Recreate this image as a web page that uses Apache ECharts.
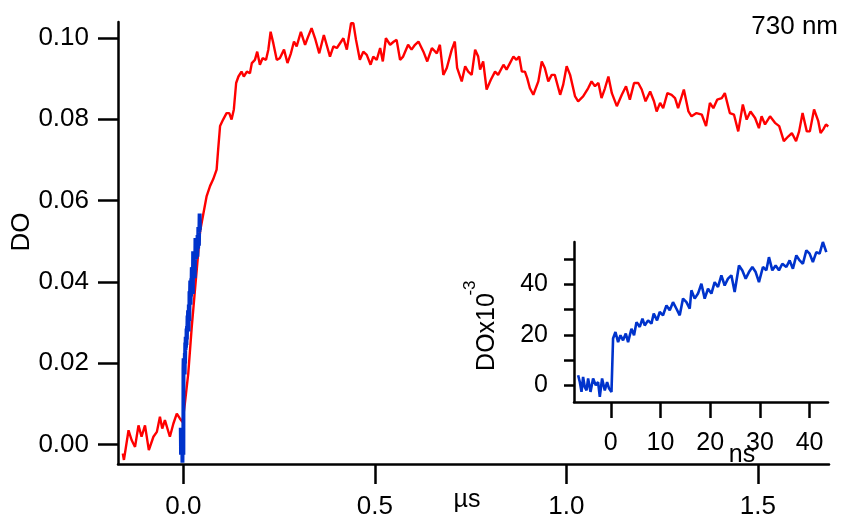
<!DOCTYPE html>
<html>
<head>
<meta charset="utf-8">
<script src="https://cdn.jsdelivr.net/npm/echarts@6/dist/echarts.min.js"></script>
<style>html,body{margin:0;padding:0;background:#fff}#c{width:841px;height:523px}</style>
</head>
<body>
<div id="c"></div>
<script>
// Main trace (red), time in µs, DO
var redTime = [
-0.158,-0.155,-0.143,-0.135,-0.126,-0.117,-0.109,-0.100,-0.090,-0.078,
-0.069,-0.061,-0.055,-0.048,-0.035,-0.026,-0.017,-0.009,-0.002,0.004,
0.013,0.022,0.031,0.044,0.061,0.070,0.078,0.087,0.091,0.096,
0.104,0.113,0.120,0.126,0.132,0.138,0.144,0.152,0.158,0.166,
0.174,0.179,0.187,0.193,0.200,0.207,0.216,0.222,0.228,0.235,
0.244,0.252,0.263,0.272,0.281,0.289,0.296,0.307,0.318,0.326,
0.335,0.344,0.355,0.367,0.383,0.392,0.401,0.418,0.427,0.438,
0.444,0.451,0.461,0.470,0.479,0.489,0.496,0.505,0.514,0.521,
0.529,0.540,0.550,0.557,0.566,0.574,0.587,0.596,0.605,0.614,
0.627,0.637,0.649,0.662,0.670,0.679,0.688,0.701,0.709,0.715,
0.727,0.736,0.744,0.753,0.762,0.770,0.775,0.783,0.792,0.803,
0.814,0.822,0.836,0.844,0.853,0.862,0.870,0.877,0.884,0.892,
0.898,0.905,0.914,0.927,0.936,0.944,0.953,0.962,0.970,0.984,
0.992,1.001,1.010,1.023,1.031,1.044,1.057,1.066,1.075,1.084,
1.092,1.101,1.110,1.119,1.132,1.145,1.156,1.166,1.177,1.188,
1.197,1.207,1.219,1.229,1.236,1.245,1.253,1.264,1.275,1.284,
1.292,1.307,1.319,1.327,1.340,1.354,1.365,1.375,1.384,1.394,
1.406,1.414,1.427,1.438,1.449,1.461,1.471,1.481,1.493,1.503,
1.510,1.519,1.532,1.545,1.556,1.568,1.580,1.589,1.600,1.608,
1.617,1.628,1.636,1.647,1.658,1.664,1.671,1.678,1.684];
var redDO = [
-0.0022,-0.0038,0.0035,0.0011,-0.0006,0.0047,0.0019,0.0047,-0.0014,0.0019,
0.0031,0.0068,0.0039,0.0060,0.0019,0.0051,0.0076,0.0064,0.0055,0.0100,
0.0175,0.0288,0.0386,0.0525,0.0611,0.0636,0.0652,0.0676,0.0725,0.0783,
0.0799,0.0815,0.0815,0.0799,0.0824,0.0889,0.0905,0.0917,0.0905,0.0917,
0.0913,0.0938,0.0946,0.0966,0.0934,0.0950,0.0946,0.0971,0.1015,0.0987,
0.0946,0.0950,0.0971,0.0938,0.0962,0.0991,0.0979,0.1015,0.0983,0.1003,
0.1024,0.0999,0.0962,0.1007,0.0954,0.0979,0.0975,0.0999,0.0971,0.1036,
0.1036,0.0995,0.0946,0.0966,0.0958,0.0934,0.0954,0.0946,0.0975,0.0942,
0.0999,0.0983,0.0991,0.0995,0.0946,0.0954,0.0983,0.0971,0.0983,0.0991,
0.0966,0.0942,0.0975,0.0962,0.0983,0.0909,0.0926,0.0971,0.0991,0.0926,
0.0893,0.0930,0.0917,0.0909,0.0971,0.0954,0.0922,0.0942,0.0873,0.0897,
0.0917,0.0909,0.0934,0.0922,0.0938,0.0954,0.0946,0.0954,0.0917,0.0917,
0.0901,0.0876,0.0860,0.0893,0.0942,0.0926,0.0893,0.0909,0.0909,0.0860,
0.0885,0.0930,0.0909,0.0856,0.0844,0.0856,0.0876,0.0893,0.0881,0.0889,
0.0852,0.0876,0.0905,0.0864,0.0832,0.0860,0.0881,0.0848,0.0889,0.0889,
0.0873,0.0844,0.0868,0.0844,0.0819,0.0840,0.0827,0.0864,0.0860,0.0852,
0.0827,0.0873,0.0819,0.0807,0.0815,0.0811,0.0783,0.0840,0.0827,0.0848,
0.0852,0.0864,0.0815,0.0811,0.0770,0.0836,0.0799,0.0819,0.0803,0.0778,
0.0807,0.0787,0.0807,0.0791,0.0783,0.0746,0.0758,0.0766,0.0746,0.0770,
0.0815,0.0770,0.0770,0.0824,0.0795,0.0766,0.0775,0.0787,0.0782];

// Fast trace (blue), time in ns, DO x10^-3
var blueNs = [-6.57,-6.23,-5.89,-5.57,-5.23,-4.88,-4.56,-4.08,-3.56,-3.02,-2.55,-2.21,-1.75,-1.21,-0.74,-0.34,0.14,
0.46,0.94,1.47,1.95,2.47,3.02,3.48,4.16,4.68,5.17,5.83,6.37,6.83,7.50,8.18,8.64,9.31,9.85,10.51,11.20,
11.86,12.52,13.21,13.87,14.53,15.22,15.88,16.22,16.88,17.55,18.23,18.89,19.56,20.24,20.90,21.57,22.25,
22.91,23.58,24.26,24.92,25.79,26.47,27.14,27.80,28.48,29.15,29.81,30.61,31.30,31.82,32.50,33.17,33.83,
34.51,35.32,35.98,36.64,37.33,37.99,38.65,39.34,40.00,40.66,41.35,42.01,42.67,43.36];
var blueDO = [4.1,1.4,-2.5,3.4,-0.6,-1.9,2.8,-2.5,2.8,0.1,1.4,-4.5,2.8,-1.9,1.4,-1.2,-2.5,
18.6,21.2,17.2,19.9,17.9,20.6,17.2,22.5,19.9,25.1,23.2,26.5,23.8,25.8,24.5,28.5,25.8,29.1,27.8,31.7,
29.8,33.0,30.4,27.8,34.4,33.0,30.4,37.7,34.4,36.4,40.3,34.4,38.3,36.4,40.9,39.0,43.6,
39.6,42.3,43.6,37.0,47.5,45.5,42.3,44.9,46.9,44.9,40.9,46.9,45.6,50.8,45.6,47.5,45.6,
48.2,46.9,49.5,46.2,51.5,49.5,48.2,53.5,52.2,48.9,52.8,52.2,56.8,52.8];

// Tick values
var mainXTicks = [0, 0.5, 1.0, 1.5];
var mainYTicks = [0, 0.02, 0.04, 0.06, 0.08, 0.10];
var insetXTicks = [0, 10, 20, 30, 40];
var insetYTicks = [0, 10, 20, 30, 40, 50];
var insetYLabels = [0, 20, 40];

var FONT = 'Liberation Sans, Arial, Helvetica, sans-serif';

function zip(a, b, sa, sb) {
  var out = [];
  for (var i = 0; i < a.length; i++) out.push([a[i] * sa, b[i] * sb]);
  return out;
}

var axisLineStyle = {color: '#000', width: 2.5};

var chart = echarts.init(document.getElementById('c'), null, {renderer: 'canvas'});
chart.setOption({
  animation: false,
  backgroundColor: '#fff',
  grid: [
    {left: 118, top: 22, right: 12, bottom: 59, outerBoundsMode: 'none', containLabel: false},
    {left: 574, top: 242, right: 13, bottom: 121, outerBoundsMode: 'none', containLabel: false}
  ],
  xAxis: [
    {
      type: 'value', gridIndex: 0, min: -0.1705, max: 1.686,
      splitLine: {show: false},
      axisLine: {show: true, onZero: false, lineStyle: axisLineStyle},
      axisTick: {show: true, length: 20, lineStyle: axisLineStyle, customValues: mainXTicks},
      axisLabel: {customValues: mainXTicks, fontSize: 26, fontFamily: FONT, color: '#000', margin: 30,
        formatter: function (v) { return v.toFixed(1); }}
    },
    {
      type: 'value', gridIndex: 1, min: -7.4, max: 43.7,
      splitLine: {show: false},
      axisLine: {show: true, onZero: false, lineStyle: axisLineStyle},
      axisTick: {show: true, length: 16, lineStyle: axisLineStyle, customValues: insetXTicks},
      axisLabel: {customValues: insetXTicks, fontSize: 25, fontFamily: FONT, color: '#000', margin: 29,
        formatter: function (v) { return String(v); }}
    }
  ],
  yAxis: [
    {
      type: 'value', gridIndex: 0, min: -0.0048, max: 0.1039,
      splitLine: {show: false},
      axisLine: {show: true, onZero: false, lineStyle: axisLineStyle},
      axisTick: {show: true, length: 20, lineStyle: axisLineStyle, customValues: mainYTicks},
      axisLabel: {customValues: mainYTicks, fontSize: 26, fontFamily: FONT, color: '#000', margin: 29,
        formatter: function (v) { return v.toFixed(2); }}
    },
    {
      type: 'value', gridIndex: 1, min: -6.5, max: 56.8,
      splitLine: {show: false},
      axisLine: {show: true, onZero: false, lineStyle: axisLineStyle},
      axisTick: {show: true, length: 10, lineStyle: axisLineStyle, customValues: insetYTicks},
      axisLabel: {customValues: insetYLabels, fontSize: 25, fontFamily: FONT, color: '#000', margin: 26,
        formatter: function (v) { return String(v); }}
    }
  ],
  series: [
    {
      type: 'line', xAxisIndex: 0, yAxisIndex: 0, showSymbol: false, symbol: 'none',
      data: zip(redTime, redDO, 1, 1),
      lineStyle: {color: '#ff0000', width: 2.4}, itemStyle: {color: '#ff0000'}
    },
    {
      type: 'line', xAxisIndex: 0, yAxisIndex: 0, showSymbol: false, symbol: 'none',
      data: zip(blueNs, blueDO, 0.001, 0.001),
      lineStyle: {color: '#0033cc', width: 4}, itemStyle: {color: '#0033cc'}
    },
    {
      type: 'line', xAxisIndex: 1, yAxisIndex: 1, showSymbol: false, symbol: 'none',
      data: zip(blueNs, blueDO, 1, 1),
      lineStyle: {color: '#0033cc', width: 2.6}, itemStyle: {color: '#0033cc'}
    }
  ],
  graphic: [
    {type: 'text', x: 22, y: 232, rotation: Math.PI / 2,
      style: {text: 'DO', font: '26px ' + FONT, fill: '#000', textAlign: 'center', textVerticalAlign: 'middle'}},
    {type: 'text', x: 467, y: 500,
      style: {text: 'µs', font: '25px ' + FONT, fill: '#000', textAlign: 'center', textVerticalAlign: 'middle'}},
    {type: 'text', x: 838, y: 27,
      style: {text: '730 nm', font: '26px ' + FONT, fill: '#000', textAlign: 'right', textVerticalAlign: 'middle'}},
    {type: 'text', x: 742, y: 455,
      style: {text: 'ns', font: '25px ' + FONT, fill: '#000', textAlign: 'center', textVerticalAlign: 'middle'}},
    {type: 'text', x: 487, y: 332, rotation: Math.PI / 2,
      style: {text: 'DOx10', font: '25px ' + FONT, fill: '#000', textAlign: 'center', textVerticalAlign: 'middle'}},
    {type: 'text', x: 470, y: 288, rotation: Math.PI / 2,
      style: {text: '-3', font: '17px ' + FONT, fill: '#000', textAlign: 'center', textVerticalAlign: 'middle'}}
  ]
});
</script>
</body>
</html>
